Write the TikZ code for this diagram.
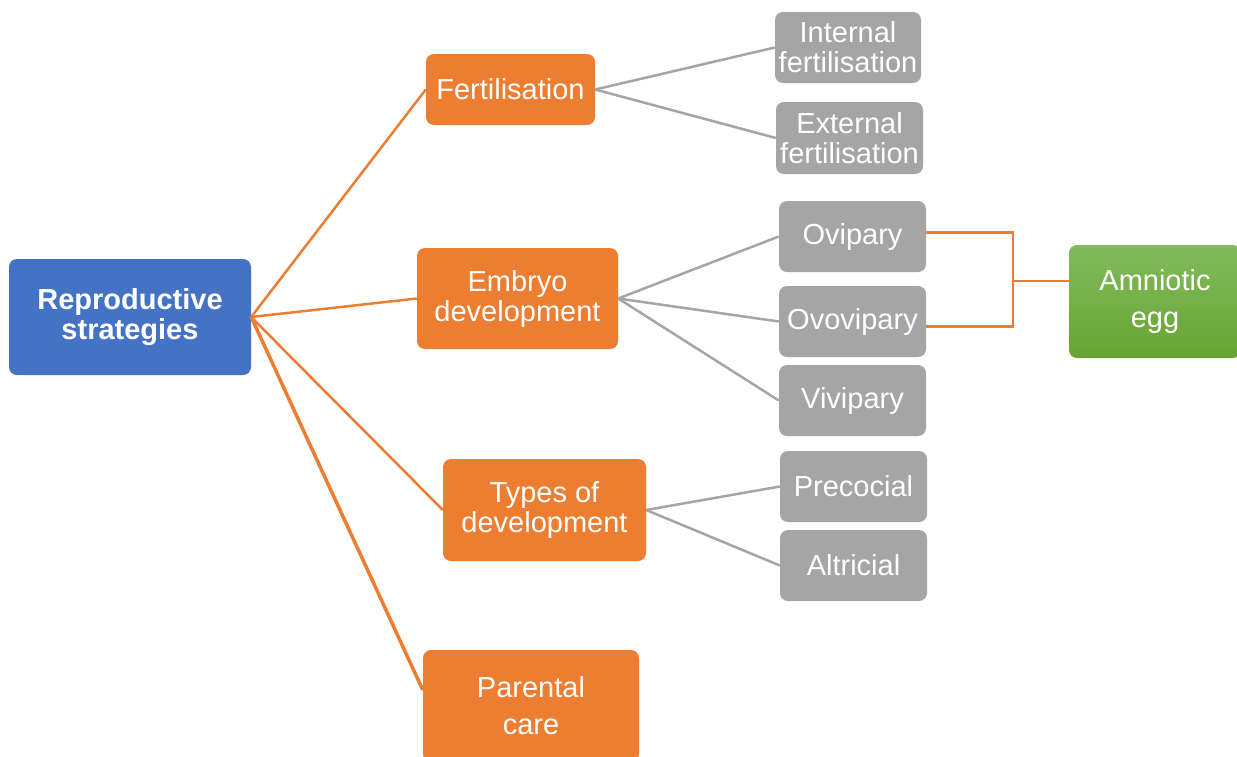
\documentclass[tikz,border=0pt]{standalone}
\usepackage{fontspec}
\setmainfont{Liberation Sans}
\definecolor{cblue}{HTML}{4472C4}
\definecolor{corange}{HTML}{ED7D31}
\definecolor{cgray}{HTML}{A5A5A5}
\definecolor{cgreenA}{RGB}{129,187,92}
\definecolor{cgreenB}{RGB}{104,164,52}
\begin{document}
\begin{tikzpicture}[x=1pt,y=-1pt,
  box/.style={rounded corners=8pt, inner sep=0pt, align=center, text=white,
    font=\fontsize{29}{30}\selectfont},
  rootbox/.style={box, fill=cblue, font=\bfseries\fontsize{29}{30}\selectfont},
  obox/.style={box, fill=corange},
  gbox/.style={box, fill=cgray, minimum width=147pt, minimum height=71pt},
  greenbox/.style={box, top color=cgreenA, bottom color=cgreenB},
  oline/.style={draw=corange, line width=2.5pt},
  gline/.style={draw=cgray, line width=2.5pt}]
\clip (0,0) rectangle (1237,756);
\fill[white] (0,0) rectangle (1237,756);

\node[rootbox, minimum width=242pt, minimum height=116pt] (root) at (130,317) {Reproductive\\strategies};
\node[obox, minimum width=169pt, minimum height=71pt] (fert) at (510.5,89.5) {Fertilisation};
\node[obox, minimum width=201pt, minimum height=101pt] (emb) at (517.5,298.5) {Embryo\\development};
\node[obox, minimum width=203pt, minimum height=102pt] (typ) at (544.5,510) {Types of\\development};
\node[obox, minimum width=216pt, minimum height=112pt] (par) at (531,706) {Parental\\[7pt]care};

\node[gbox, minimum width=146pt] (int) at (848,47.5) {Internal\\fertilisation};
\node[gbox, minimum height=72pt] (ext) at (849.5,138) {External\\fertilisation};
\node[gbox] (ovi) at (852.5,236.5) {Ovipary};
\node[gbox] (ovo) at (852.5,321.5) {Ovovipary};
\node[gbox] (viv) at (852.5,400.5) {Vivipary};
\node[gbox] (pre) at (853.5,486.5) {Precocial};
\node[gbox] (alt) at (853.5,565.5) {Altricial};

\node[greenbox, minimum width=172pt, minimum height=113pt] (amn) at (1155,301.5) {Amniotic\\[7pt]egg};

% root connectors
\draw[oline] (root.east) -- (fert.west);
\draw[oline] (root.east) -- (emb.west);
\draw[oline] (root.east) -- (typ.west);
\draw[oline, line width=3.5pt] (root.east) -- ([yshift=16pt]par.west);

% children
\draw[gline] (fert.east) -- (int.west);
\draw[gline] (fert.east) -- (ext.west);
\draw[gline] (emb.east) -- (ovi.west);
\draw[gline] (emb.east) -- (ovo.west);
\draw[gline] (emb.east) -- (viv.west);
\draw[gline] (typ.east) -- (pre.west);
\draw[gline] (typ.east) -- (alt.west);

% bracket
\coordinate (bj) at (1013,281);
\draw[oline] ([yshift=4pt]ovi.east) -| (bj);
\draw[oline] ([yshift=-5pt]ovo.east) -| (bj);
\draw[oline] (bj) -- (bj -| amn.west);
\end{tikzpicture}
\end{document}
